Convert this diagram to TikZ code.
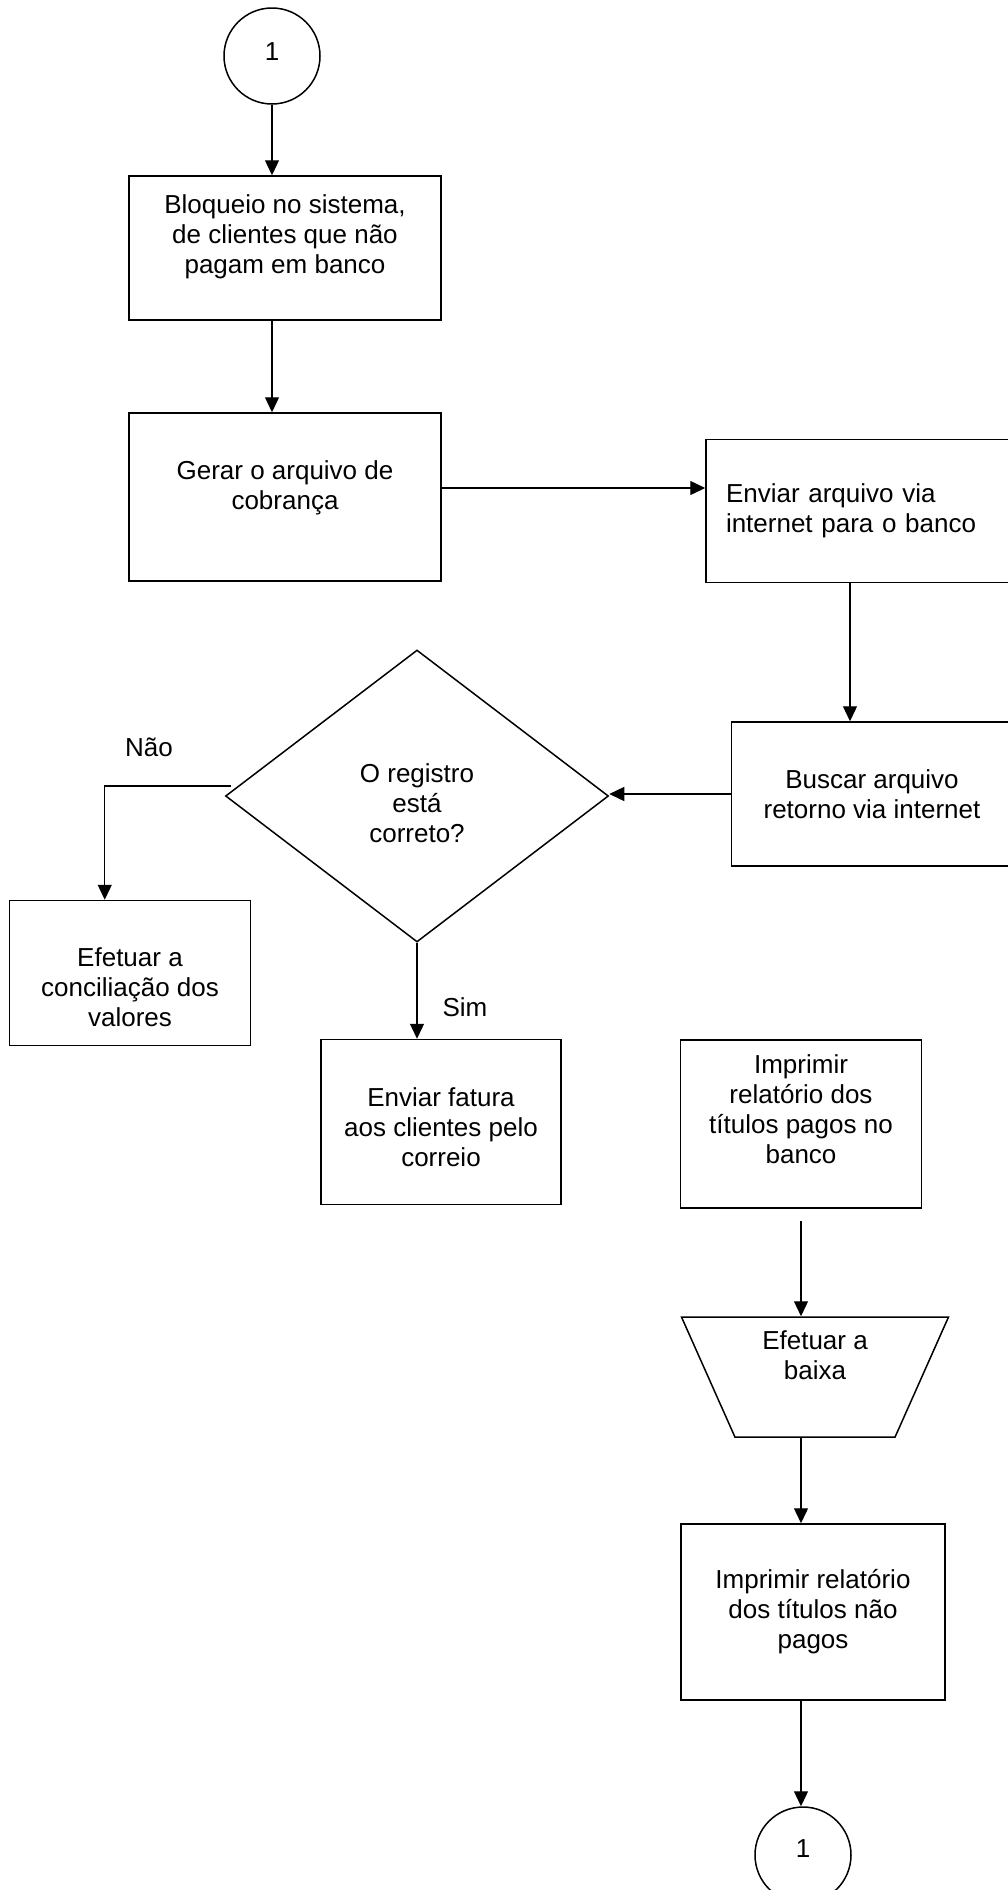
\documentclass[tikz,border=0pt]{standalone}
\usepackage{fontspec}
\setmainfont{Liberation Sans}
\usetikzlibrary{arrows.meta,shapes.geometric}

% texto da caixa, subido ou descido sem mudar o tamanho
\newcommand{\textocaixa}[2]{\raisebox{#1}[\height][\depth]{\begin{tabular}{@{}c@{}}#2\end{tabular}}}

\begin{document}
\begin{tikzpicture}[x=1pt,y=-1pt,
    font=\fontsize{26}{30}\selectfont,
    caixa/.style={draw,line width=1.5pt,align=center,inner sep=0pt},
    circ/.style={draw,circle,line width=1.5pt,minimum size=96pt,inner sep=0pt},
    seta/.style={arrows=-{Triangle[length=15pt,width=14pt]},line width=1.3pt}]
  \useasboundingbox (0,0) rectangle (1008,1890);

  \node[circ] (c1) at (272,56) {\raisebox{9pt}{1}};
  \node[caixa,minimum width=312pt,minimum height=144pt] (bloq) at (285,248)
    {\textocaixa{11pt}{Bloqueio no sistema,\\de clientes que não\\pagam em banco}};
  \node[caixa,minimum width=312pt,minimum height=168pt] (gerar) at (285,497)
    {\textocaixa{9pt}{Gerar o arquivo de\\cobrança}};
  \node[caixa,minimum width=306pt,minimum height=143pt,text width=266pt,align=left] (enviar) at (859,511)
    {Enviar arquivo via\\internet para o banco};
  \node[caixa,minimum width=281pt,minimum height=144pt] (buscar) at (872,794)
    {Buscar arquivo\\retorno via internet};
  \node[caixa,diamond,minimum width=383pt,minimum height=292pt] (dec) at (417,796)
    {\textocaixa{-10pt}{O registro\\está\\correto?}};
  \node[caixa,minimum width=241pt,minimum height=145pt] (conc) at (130,973)
    {\textocaixa{-17pt}{Efetuar a\\conciliação dos\\valores}};
  \node[caixa,minimum width=240pt,minimum height=165pt] (fatura) at (441,1122)
    {\textocaixa{-8pt}{Enviar fatura\\aos clientes pelo\\correio}};
  \node[caixa,minimum width=241pt,minimum height=168pt] (imp) at (801,1124)
    {\textocaixa{12pt}{Imprimir\\relatório dos\\títulos pagos no\\banco}};
  \node[caixa,trapezium,shape border rotate=180,trapezium angle=66,
        trapezium stretches body,minimum width=267pt,inner ysep=30pt] (baixa) at (815,1377)
    {\textocaixa{19pt}{Efetuar a\\baixa}};
  \node[caixa,minimum width=264pt,minimum height=176pt] (naopg) at (813,1612)
    {Imprimir relatório\\dos títulos não\\pagos};
  \node[circ] (c2) at (803,1855) {\raisebox{12pt}{1}};

  \node (nao) at (149,747) {Não};
  \node (sim) at (465,1007) {Sim};

  \draw[seta] (c1.south) -- (c1.south |- bloq.north);
  \draw[seta] (c1 |- bloq.south) -- (c1 |- gerar.north);
  \draw[seta] ([yshift=9pt]gerar.east) coordinate (g1) -- (g1 -| enviar.west);
  \draw[seta] ([xshift=-9pt]enviar.south) coordinate (e1) -- (e1 |- buscar.north);
  \draw[seta] (buscar.west) -- (buscar.west -| dec.east);
  \draw[seta] ([xshift=6pt,yshift=10pt]dec.west) -- ++(-126,0) coordinate (d1) -- (d1 |- conc.north);
  \draw[seta] (dec.south) -- (dec.south |- fatura.north);
  \draw[seta] ([yshift=-12pt]imp.south) coordinate (i1) -- (i1 |- baixa.north);
  \draw[seta] (i1 |- baixa.south) -- (i1 |- naopg.north);
  \draw[seta] (i1 |- naopg.south) -- (i1 |- c2.north);
\end{tikzpicture}
\end{document}
